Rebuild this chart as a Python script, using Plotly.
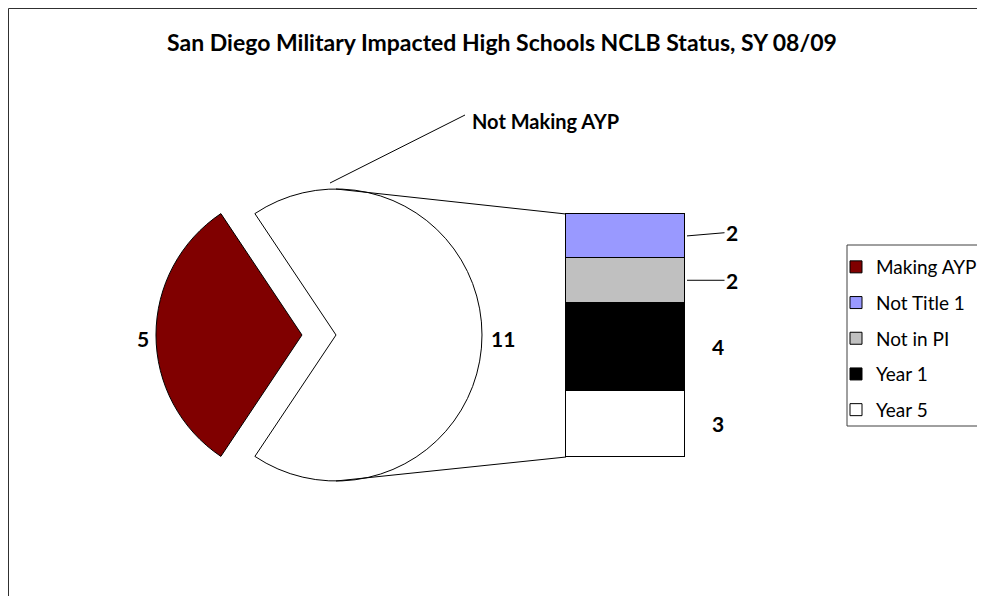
import plotly.graph_objects as go

W, H = 985, 596
OFF = 8  # the page body has an 8px margin round the figure

title = "San Diego Military Impacted High Schools NCLB Status, SY 08/09"

# main pie
pie_labels = ["Making AYP", "Not Making AYP"]
pie_values = [5, 11]
pie_colors = ["#800000", "#FFFFFF"]

# breakdown of "Not Making AYP", listed bottom to top of the stacked bar
bar_labels = ["Year 5", "Year 1", "Not in PI", "Not Title 1"]
bar_values = [3, 4, 2, 2]
bar_colors = ["#FFFFFF", "#000000", "#C0C0C0", "#9999FF"]
legend_order = ["Making AYP", "Not Title 1", "Not in PI", "Year 1", "Year 5"]

FONT = "Lato"


def px(x):
    return (x - OFF) / W


def py(y):
    return 1 - (y - OFF) / H


# pie geometry (pixels on the page)
cx, cy, r, pull = 336, 335, 146, 0.233
half = r * (1 + pull)

# bar geometry (pixels on the page)
bx0, bx1, by_top, by_bot = 566, 685, 214, 457
total = sum(bar_values)
xpad = 0.05   # a little room so the bar outline is not clipped
ypad = 0.1
bw = bx1 - bx0
upx = (by_bot - by_top) / total

fig = go.Figure()

# red slice centred on 9 o'clock, going clockwise
start = 270 - 180 * pie_values[0] / sum(pie_values)
fig.add_trace(go.Pie(
    labels=pie_labels,
    values=pie_values,
    sort=False,
    direction="clockwise",
    rotation=start,
    pull=[pull, 0],
    marker=dict(colors=pie_colors, line=dict(color="#000000", width=1)),
    textinfo="none",
    showlegend=False,
    domain=dict(x=[px(cx - half), px(cx + half)], y=[py(cy + half), py(cy - half)]),
))

# legend key for the pie slice
fig.add_trace(go.Bar(
    x=[None], y=[None], name=pie_labels[0],
    marker=dict(color=pie_colors[0], line=dict(color="#000000", width=1)),
    legendgroup=pie_labels[0], legendrank=1,
))

for lab, val, col in zip(bar_labels, bar_values, bar_colors):
    fig.add_trace(go.Bar(
        x=[0], y=[val], width=1, name=lab,
        marker=dict(color=col, line=dict(color="#000000", width=1)),
        legendgroup=lab, legendrank=legend_order.index(lab) + 1,
        hoverinfo="name+y",
    ))

lbl_font = dict(size=21, color="#000000", family=FONT)

annotations = []
cum = 0
for lab, val in zip(bar_labels, bar_values):
    mid = cum + val / 2
    cum += val
    if val <= 2:
        annotations.append(dict(
            x=0.5, y=mid, xref="x", yref="y", text="<b>%d</b>" % val,
            showarrow=True, arrowhead=0, arrowwidth=1, arrowcolor="#000000",
            ax=47, ay=-4 if lab == "Not Title 1" else 0, standoff=2,
            font=lbl_font,
        ))
    else:
        annotations.append(dict(
            x=0.5, y=mid, xref="x", yref="y", text="<b>%d</b>" % val,
            showarrow=False, xshift=33, xanchor="center", font=lbl_font,
        ))

# pie value labels
annotations.append(dict(
    x=px(cx - half - 13), y=py(cy + 3), xref="paper", yref="paper", xanchor="center",
    text="<b>%d</b>" % pie_values[0], showarrow=False, font=lbl_font,
))
annotations.append(dict(
    x=px(cx + r + 21), y=py(cy + 3), xref="paper", yref="paper", xanchor="center",
    text="<b>%d</b>" % pie_values[1], showarrow=False, font=lbl_font,
))
annotations.append(dict(
    x=px(470), y=py(107), xref="paper", yref="paper", xanchor="left",
    text="<b>%s</b>" % pie_labels[1], showarrow=False,
    font=dict(size=20, color="#000000", family=FONT),
))

shapes = [
    # chart frame
    dict(type="rect", xref="paper", yref="paper", x0=px(OFF + 0.5), y0=py(OFF + 0.5), x1=px(W + 20), y1=py(H + 20),
         line=dict(color="#303030", width=1), layer="below"),
    # legend box
    dict(type="rect", xref="paper", yref="paper", x0=px(847), y0=py(245), x1=px(W + 20), y1=py(426),
         line=dict(color="#404040", width=1), fillcolor="#FFFFFF", layer="below"),
    # connectors pie -> bar
    dict(type="line", xref="paper", yref="paper", x0=px(cx), y0=py(cy - r), x1=px(bx0), y1=py(by_top),
         line=dict(color="#000000", width=1)),
    dict(type="line", xref="paper", yref="paper", x0=px(cx), y0=py(cy + r), x1=px(bx0), y1=py(by_bot),
         line=dict(color="#000000", width=1)),
    # leader for "Not Making AYP"
    dict(type="line", xref="paper", yref="paper", x0=px(330), y0=py(183), x1=px(465), y1=py(115),
         line=dict(color="#000000", width=1)),
]

fig.update_layout(
    width=W, height=H,
    margin=dict(l=0, r=0, t=0, b=0),
    paper_bgcolor="#FFFFFF", plot_bgcolor="rgba(0,0,0,0)",
    title=dict(text="<b>%s</b>" % title, x=px(502), y=py(43), xanchor="center", yanchor="middle",
               font=dict(size=23, color="#000000", family=FONT)),
    barmode="stack", bargap=0,
    xaxis=dict(domain=[px(bx0 - xpad * bw), px(bx1 + xpad * bw)], range=[-0.5 - xpad, 0.5 + xpad],
               visible=False, fixedrange=True),
    yaxis=dict(domain=[py(by_bot + ypad * upx), py(by_top - ypad * upx)], range=[-ypad, total + ypad],
               visible=False, fixedrange=True),
    legend=dict(x=px(836), y=py(248), xanchor="left", yanchor="top",
                bgcolor="rgba(0,0,0,0)", borderwidth=0,
                traceorder="grouped", tracegroupgap=8, itemwidth=30,
                font=dict(size=19, color="#000000", family=FONT)),
    annotations=annotations,
    shapes=shapes,
    showlegend=True,
)

fig.write_html("out.html")
